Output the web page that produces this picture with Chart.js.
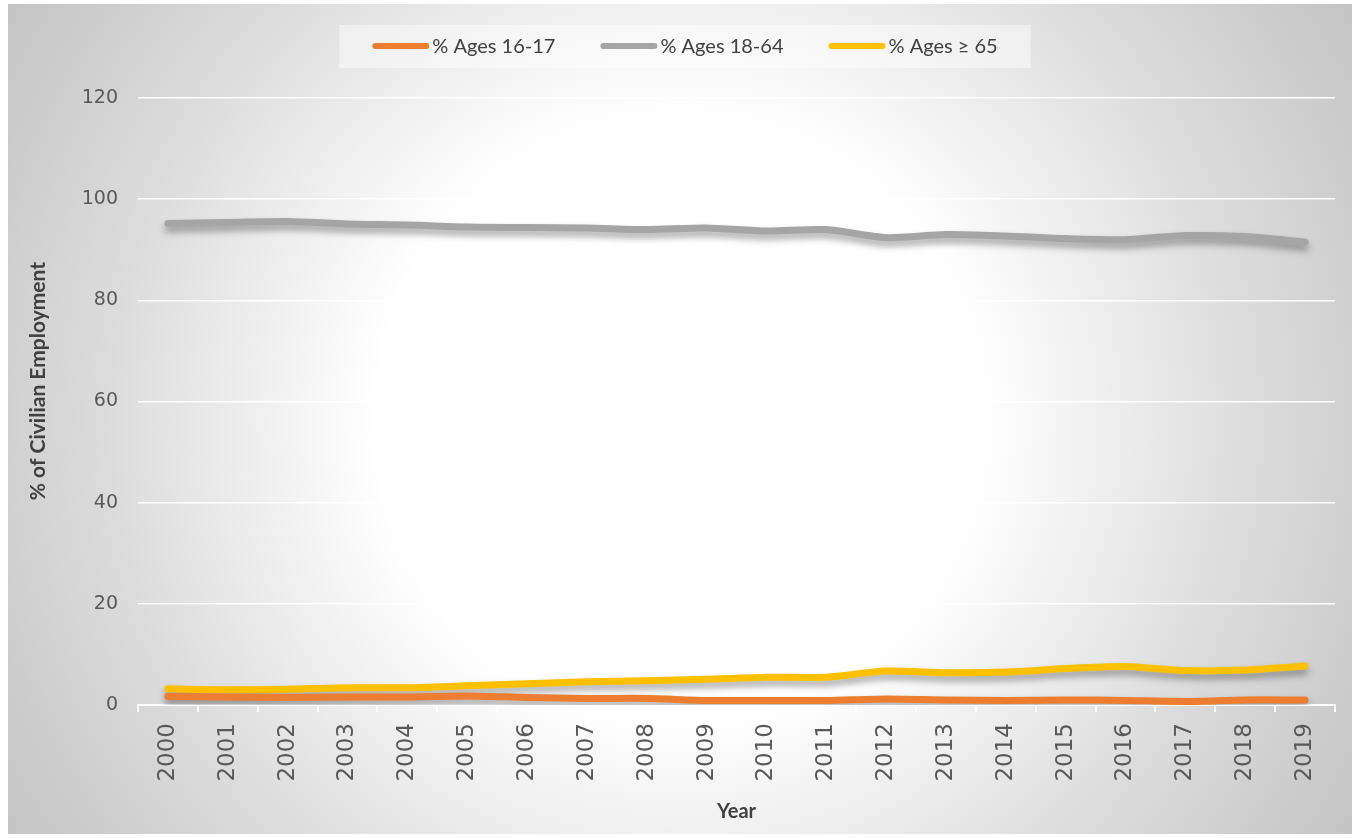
<!DOCTYPE html>
<html lang="en">

<head>
    <meta charset="UTF-8">
    <title>% of Civilian Employment by Age</title>
    <style>
        body {
            margin: 0;
            background: #ffffff;
        }

        .chart-box {
            width: 1358px;
            height: 838px;
        }
    </style>
</head>

<body>
    <div class="chart-box">
        <canvas id="age-chart"></canvas>
    </div>

    <script src="https://cdn.jsdelivr.net/npm/chart.js"></script>
    <script>
        // Data
        const years = ["2000", "2001", "2002", "2003", "2004", "2005", "2006", "2007", "2008", "2009",
            "2010", "2011", "2012", "2013", "2014", "2015", "2016", "2017", "2018", "2019"];
        const ages16to17 = [1.7, 1.6, 1.5, 1.6, 1.6, 1.8, 1.5, 1.3, 1.3, 0.9, 0.9, 0.9, 1.2, 1.0, 0.9, 1.0, 0.9, 0.7, 1.0, 1.0];
        const ages18to64 = [95.2, 95.4, 95.6, 95.1, 94.9, 94.5, 94.4, 94.3, 94.0, 94.3, 93.7, 94.0, 92.4, 93.0, 92.7, 92.2, 92.0, 92.8, 92.6, 91.5];
        const ages65plus = [3.2, 3.0, 3.1, 3.4, 3.4, 3.8, 4.2, 4.6, 4.8, 5.1, 5.5, 5.5, 6.7, 6.4, 6.5, 7.2, 7.6, 6.8, 6.9, 7.7];
        const yTicks = [0, 20, 40, 60, 80, 100, 120];

        const legendFont = "20px Lato, 'Open Sans', sans-serif";

        // radial grey backdrop, line shadows and an Excel-like legend strip
        const backdrop = {
            id: "backdrop",
            beforeDraw(chart) {
                const ctx = chart.ctx;
                const w = chart.width, h = chart.height;
                ctx.save();
                ctx.fillStyle = "#ffffff";
                ctx.fillRect(0, 0, w, h);
                const g = ctx.createRadialGradient(w / 2, h / 2, 0, w / 2, h / 2, 790);
                g.addColorStop(0, "#ffffff");
                g.addColorStop(0.38, "#ffffff");
                g.addColorStop(0.72, "#dcdcdc");
                g.addColorStop(1, "#c4c4c4");
                ctx.fillStyle = g;
                ctx.fillRect(8, 4, w - 14, h - 8);
                ctx.restore();
            },
            beforeDatasetsDraw(chart) {
                const ctx = chart.ctx;
                ctx.save();
                ctx.shadowColor = "rgba(0,0,0,0.35)";
                ctx.shadowBlur = 7;
                ctx.shadowOffsetY = 5;
            },
            afterDatasetsDraw(chart) {
                chart.ctx.restore();
            },
            afterDraw(chart) {
                const ctx = chart.ctx;
                const sets = chart.data.datasets;
                const lineLen = 57, textGap = 3, itemGap = 45;
                ctx.save();
                ctx.font = legendFont;
                const widths = sets.map(ds => ctx.measureText(ds.label).width);
                const total = widths.reduce((a, b) => a + b, 0) + sets.length * (lineLen + textGap) + (sets.length - 1) * itemGap;
                const cx = chart.width / 2 + 6;
                const midY = 46;
                ctx.fillStyle = "rgba(255,255,255,0.45)";
                ctx.fillRect(cx - total / 2 - 33, 25, total + 66, 43);
                let x = cx - total / 2;
                sets.forEach((ds, i) => {
                    ctx.strokeStyle = ds.borderColor;
                    ctx.lineWidth = 6;
                    ctx.lineCap = "round";
                    ctx.beginPath();
                    ctx.moveTo(x + 3, midY);
                    ctx.lineTo(x + lineLen - 3, midY);
                    ctx.stroke();
                    ctx.fillStyle = "#404040";
                    ctx.textBaseline = "middle";
                    ctx.fillText(ds.label, x + lineLen + textGap, midY + 1);
                    x += lineLen + textGap + widths[i] + itemGap;
                });
                ctx.restore();
            }
        };

        const ctx = document.getElementById("age-chart").getContext("2d");
        new Chart(ctx, {
            type: "line",
            data: {
                labels: years,
                datasets: [
                    { label: "% Ages 16-17", data: ages16to17, borderColor: "#ED7D31", backgroundColor: "#ED7D31" },
                    { label: "% Ages 18-64", data: ages18to64, borderColor: "#A5A5A5", backgroundColor: "#A5A5A5" },
                    { label: "% Ages \u2265 65", data: ages65plus, borderColor: "#FFC000", backgroundColor: "#FFC000" }
                ]
            },
            options: {
                responsive: true,
                maintainAspectRatio: false,
                animation: false,
                layout: {
                    padding: { left: 8, right: 23, top: 98, bottom: 4 }
                },
                elements: {
                    line: { borderWidth: 7, borderCapStyle: "round", borderJoinStyle: "round", tension: 0.25 },
                    point: { radius: 0, hoverRadius: 0 }
                },
                plugins: {
                    legend: { display: false },
                    tooltip: { enabled: false }
                },
                scales: {
                    x: {
                        offset: true,
                        afterFit(scale) { scale.height = 129; },
                        border: { display: true, color: "#ffffff", width: 2 },
                        grid: { display: true, drawOnChartArea: false, drawTicks: true, tickLength: 7, color: "#ffffff", lineWidth: 2, offset: true },
                        ticks: {
                            minRotation: 90,
                            maxRotation: 90,
                            padding: 11,
                            color: "#595959",
                            font: { family: "'DejaVu Sans', sans-serif", size: 23 }
                        },
                        title: {
                            display: true,
                            text: "Year",
                            color: "#404040",
                            padding: { top: 0, bottom: 10 },
                            font: { family: "'Liberation Sans Narrow', Lato, sans-serif", size: 20, weight: "bold" }
                        }
                    },
                    y: {
                        min: 0,
                        max: 120,
                        afterFit(scale) { scale.width = 130; },
                        afterBuildTicks(scale) { scale.ticks = yTicks.map(v => ({ value: v })); },
                        border: { display: false },
                        grid: { color: "#ffffff", lineWidth: 1.5, drawTicks: false },
                        ticks: {
                            padding: 20,
                            color: "#595959",
                            font: { family: "'DejaVu Sans', sans-serif", size: 19 }
                        },
                        title: {
                            display: true,
                            text: "        % of Civilian Employment",
                            color: "#404040",
                            padding: { top: 18, bottom: 0 },
                            font: { family: "'Liberation Sans Narrow', Lato, sans-serif", size: 21, weight: "bold" }
                        }
                    }
                }
            },
            plugins: [backdrop]
        });
    </script>
</body>

</html>
